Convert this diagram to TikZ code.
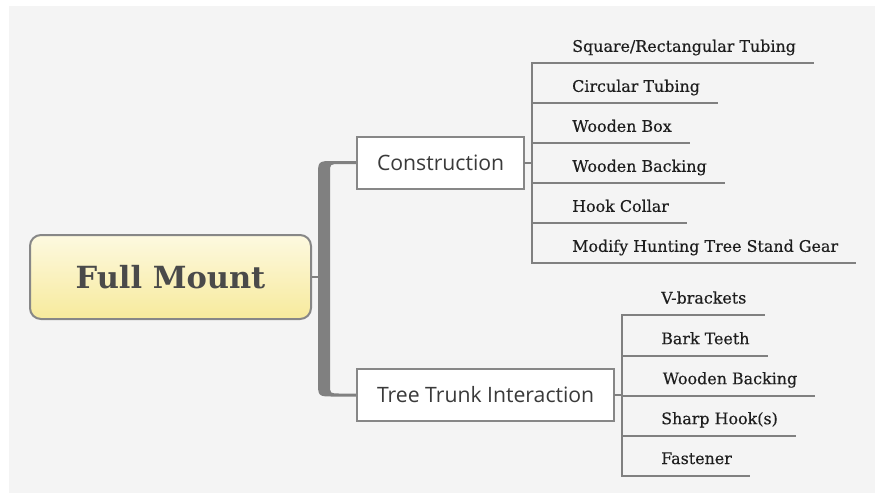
\documentclass[tikz,border=0pt]{standalone}
\usepackage{fontspec}
\usetikzlibrary{calc}
\newfontfamily\slabfont{DejaVu Serif}
\newfontfamily\leaffont[FakeBold=0.4]{DejaVu Serif}
\newfontfamily\boxfont{Open Sans}
\definecolor{bg}{HTML}{F4F4F4}
\definecolor{linegray}{HTML}{808080}
\definecolor{bordergray}{HTML}{878787}
\definecolor{rootTop}{HTML}{FDF9E0}
\definecolor{rootBottom}{HTML}{F7EA9C}
\definecolor{rootText}{HTML}{4A4A4A}
\definecolor{boxText}{HTML}{3A3A3A}
\definecolor{leafText}{HTML}{1E1E1E}

\begin{document}
\begin{tikzpicture}[x=1pt,y=-1pt,
  rootbox/.style={draw=bordergray, line width=2pt, rounded corners=11pt,
    top color=rootTop, bottom color=rootBottom,
    minimum width=281pt, minimum height=84pt, inner sep=0pt,
    font=\slabfont\bfseries\fontsize{30.5}{34}\selectfont, text=rootText},
  topic/.style={draw=bordergray, line width=2pt, fill=white,
    minimum height=52pt, inner xsep=20pt, inner ysep=0pt, anchor=west,
    font=\boxfont\fontsize{21.2}{24}\selectfont, text=boxText},
  leaf/.style={anchor=base west, inner sep=0pt,
    font=\leaffont\fontsize{15.9}{19}\selectfont, text=leafText},
  branch/.style={draw=linegray, line width=2pt, line cap=rect},
]
% canvas
\fill[white] (0,0) rectangle (875,493);
\fill[bg] (9,6) rectangle (875,493);
\useasboundingbox (0,0) rectangle (875,493);

% main topic and its two subtopics
\node[rootbox] (root) at (170.5,277) {Full Mount};
\node[topic] (cons) at (356,162.5) {Construction};
\node[topic] (trunk) at (356,395) {Tree Trunk Interaction};

% leaves of "Construction"
\node[leaf] (c1) at (572,51.8) {Square/Rectangular Tubing};
\node[leaf] (c2) at (572,91.8) {Circular Tubing};
\node[leaf] (c3) at (572,131.8) {Wooden Box};
\node[leaf] (c4) at (572,171.8) {Wooden Backing};
\node[leaf] (c5) at (572,211.8) {Hook Collar};
\node[leaf] (c6) at (572,251.8) {Modify Hunting Tree Stand Gear};

% leaves of "Tree Trunk Interaction"
\node[leaf] (t1) at (661,303.5) {V-brackets};
\node[leaf] (t2) at (661,344.2) {Bark Teeth};
\node[leaf] (t3) at (662.5,384.2) {Wooden Backing};
\node[leaf] (t4) at (661,424.2) {Sharp Hook(s)};
\node[leaf] (t5) at (661,464) {Fastener};

% thin link from the main topic into the bracket
\draw[draw=linegray, line width=1.2pt] (root.east) -- ($(root.east -| cons.west)+(-32,0)$);

% thick bracket joining the two subtopics
\fill[linegray]
  ($(cons.west)+(0,-1.5)$) -- ($(cons.west)+(-22,-1.5)$)
  .. controls ($(cons.west)+(-38,-1.5)$) .. ($(cons.west)+(-38,14)$)
  -- ($(trunk.west)+(-38,-14)$)
  .. controls ($(trunk.west)+(-38,1.5)$) .. ($(trunk.west)+(-22,1.5)$)
  -- ($(trunk.west)+(0,1.5)$) -- ($(trunk.west)+(0,-1.5)$)
  -- ($(trunk.west)+(-16,-1.5)$)
  .. controls ($(trunk.west)+(-26,-1.5)$) .. ($(trunk.west)+(-26,-10)$)
  -- ($(cons.west)+(-26,10)$)
  .. controls ($(cons.west)+(-26,1.5)$) .. ($(cons.west)+(-16,1.5)$)
  -- ($(cons.west)+(0,1.5)$) -- cycle;

% "Construction" branch: spine, stem and underlines
\coordinate (ctop) at ($(c1.base west)+(-40,11.5)$);
\coordinate (cbot) at ($(c6.base west)+(-40,11.5)$);
\draw[branch] (cons.east) -- (cons.east -| ctop);
\draw[branch] (ctop) -- (cbot);
\foreach \c in {c1,c2,c3,c4,c5,c6}
  \draw[branch] ($(\c.base west -| ctop)+(0,11.5)$) -- ($(\c.base east)+(17,11.5)$);

% "Tree Trunk Interaction" branch
\coordinate (ttop) at ($(t1.base west)+(-39,11.5)$);
\coordinate (tbot) at ($(t5.base west)+(-39,11.5)$);
\draw[branch] (trunk.east) -- (trunk.east -| ttop);
\draw[branch] (ttop) -- (tbot);
\foreach \c in {t1,t2,t3,t4,t5}
  \draw[branch] ($(\c.base west -| ttop)+(0,11.5)$) -- ($(\c.base east)+(17,11.5)$);
\end{tikzpicture}
\end{document}
